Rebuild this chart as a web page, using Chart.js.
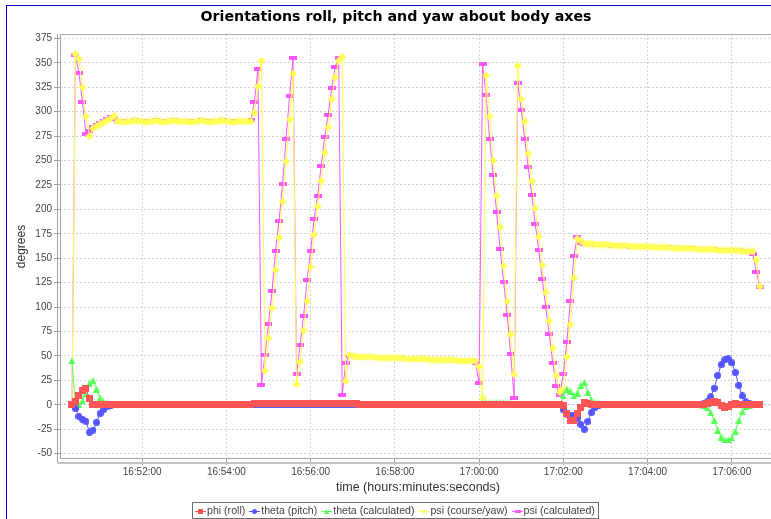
<!DOCTYPE html>
<html>
<head>
<meta charset="utf-8">
<title>Orientations roll, pitch and yaw about body axes</title>
<script src="https://cdn.jsdelivr.net/npm/chart.js@4.4.0/dist/chart.umd.min.js"></script>
<style>
  html, body { margin: 0; padding: 0; background: #fff; overflow: hidden; }
  #wrap { position: absolute; left: 0; top: 0; width: 790px; height: 519px; }
  #frame { position: absolute; left: 6px; top: 5px; width: 900px; height: 600px;
           border-left: 1px solid #0000c8; border-top: 1px solid #0000c8; pointer-events: none; }
</style>
</head>
<body>
<div id="wrap"><canvas id="myChart" width="790" height="519"></canvas></div>
<div id="frame"></div>
<script>
// sample times, one every 5 seconds
const times = [
  "16:50:20","16:50:25","16:50:30","16:50:35","16:50:40","16:50:45","16:50:50","16:50:55",
  "16:51:00","16:51:05","16:51:10","16:51:15","16:51:20","16:51:25","16:51:30","16:51:35","16:51:40","16:51:45","16:51:50","16:51:55",
  "16:52:00","16:52:05","16:52:10","16:52:15","16:52:20","16:52:25","16:52:30","16:52:35","16:52:40","16:52:45","16:52:50","16:52:55",
  "16:53:00","16:53:05","16:53:10","16:53:15","16:53:20","16:53:25","16:53:30","16:53:35","16:53:40","16:53:45","16:53:50","16:53:55",
  "16:54:00","16:54:05","16:54:10","16:54:15","16:54:20","16:54:25","16:54:30","16:54:35","16:54:40","16:54:45","16:54:50","16:54:55",
  "16:55:00","16:55:05","16:55:10","16:55:15","16:55:20","16:55:25","16:55:30","16:55:35","16:55:40","16:55:45","16:55:50","16:55:55",
  "16:56:00","16:56:05","16:56:10","16:56:15","16:56:20","16:56:25","16:56:30","16:56:35","16:56:40","16:56:45","16:56:50","16:56:55",
  "16:57:00","16:57:05","16:57:10","16:57:15","16:57:20","16:57:25","16:57:30","16:57:35","16:57:40","16:57:45","16:57:50","16:57:55",
  "16:58:00","16:58:05","16:58:10","16:58:15","16:58:20","16:58:25","16:58:30","16:58:35","16:58:40","16:58:45","16:58:50","16:58:55",
  "16:59:00","16:59:05","16:59:10","16:59:15","16:59:20","16:59:25","16:59:30","16:59:35","16:59:40","16:59:45","16:59:50","16:59:55",
  "17:00:00","17:00:05","17:00:10","17:00:15","17:00:20","17:00:25","17:00:30","17:00:35","17:00:40","17:00:45","17:00:50","17:00:55",
  "17:01:00","17:01:05","17:01:10","17:01:15","17:01:20","17:01:25","17:01:30","17:01:35","17:01:40","17:01:45","17:01:50","17:01:55",
  "17:02:00","17:02:05","17:02:10","17:02:15","17:02:20","17:02:25","17:02:30","17:02:35","17:02:40","17:02:45","17:02:50","17:02:55",
  "17:03:00","17:03:05","17:03:10","17:03:15","17:03:20","17:03:25","17:03:30","17:03:35","17:03:40","17:03:45","17:03:50","17:03:55",
  "17:04:00","17:04:05","17:04:10","17:04:15","17:04:20","17:04:25","17:04:30","17:04:35","17:04:40","17:04:45","17:04:50","17:04:55",
  "17:05:00","17:05:05","17:05:10","17:05:15","17:05:20","17:05:25","17:05:30","17:05:35","17:05:40","17:05:45","17:05:50","17:05:55",
  "17:06:00","17:06:05","17:06:10","17:06:15","17:06:20","17:06:25","17:06:30","17:06:35","17:06:40"
];

// degrees, one line per minute
const phi = [
  0, 3, 9, 15, 17, 6, 0, 0,
  0, 0, 0, 0, 0, 0, 0, 0, 0, 0, 0, 0,
  0, 0, 0, 0, 0, 0, 0, 0, 0, 0, 0, 0,
  0, 0, 0, 0, 0, 0, 0, 0, 0, 0, 0, 0,
  0, 0, 0, 0, 0, 0, 0, 0, 1, 1, 1, 1,
  1, 1, 1, 1, 1, 1, 1, 1, 1, 1, 1, 1,
  1, 1, 1, 1, 1, 1, 1, 1, 1, 1, 1, 1,
  1, 1, 0, 0, 0, 0, 0, 0, 0, 0, 0, 0,
  0, 0, 0, 0, 0, 0, 0, 0, 0, 0, 0, 0,
  0, 0, 0, 0, 0, 0, 0, 0, 0, 0, 0, 0,
  0, 0, 0, 0, 0, 0, 0, 0, 0, 0, 0, 0,
  0, 0, 0, 0, 0, 0, 0, 0, 0, 0, 0, 0,
  -1, -9, -16, -16, -9, -3, 2, 1, 0, 0, 0, 0,
  0, 0, 0, 0, 0, 0, 0, 0, 0, 0, 0, 0,
  0, 0, 0, 0, 0, 0, 0, 0, 0, 0, 0, 0,
  0, 0, 0, 0, 0, 1, 2, 3, 2, -1, -3, -2,
  0, 1, 0, 0, 0, 0, 0, 0, 0
];

const theta = [
  0, -4, -12, -15, -17, -28, -26, -18,
  -9, -5, -2, -1, 0, 0, 0, 0, 0, 0, 0, 0,
  0, 0, 0, 0, 0, 0, 0, 0, 0, 0, 0, 0,
  0, 0, 0, 0, 0, 0, 0, 0, 0, 0, 0, 0,
  0, 0, 0, 0, 0, 0, 0, 0, 0, 0, 0, 0,
  0, 0, 0, 0, 0, 0, 0, 0, 0, 0, 0, 0,
  0, 0, 0, 0, 0, 0, 0, 0, 0, 0, 0, 0,
  0, 0, 0, 0, 0, 0, 0, 0, 0, 0, 0, 0,
  0, 0, 0, 0, 0, 0, 0, 0, 0, 0, 0, 0,
  0, 0, 0, 0, 0, 0, 0, 0, 0, 0, 0, 0,
  0, 0, 0, 0, 0, 0, 0, 0, 0, 0, 0, 0,
  0, 0, 0, 0, 0, 0, 0, 0, 0, 0, 0, 0,
  -5, -10, -11, -11, -14, -20, -25, -17, -8, -3, -1, 0,
  0, 0, 0, 0, 0, 0, 0, 0, 0, 0, 0, 0,
  0, 0, 0, 0, 0, 0, 0, 0, 0, 0, 0, 0,
  0, 0, 0, 0, 1, 3, 8, 17, 30, 41, 46, 47,
  43, 33, 20, 9, 3, 1, 0, 0, 0
];

const thetaCalc = [
  45, 0, 0, 4, 12, 22, 25, 16,
  7, 3, 1, 0, 0, 0, 0, 0, 0, 0, 0, 0,
  0, 0, 0, 0, 0, 0, 0, 0, 0, 0, 0, 0,
  0, 0, 0, 0, 0, 0, 0, 0, 0, 0, 0, 0,
  0, 0, 0, 0, 0, 0, 0, 0, 0, 0, 0, 0,
  0, 0, 0, 0, 0, 0, 0, 0, 0, 0, 0, 0,
  0, 0, 0, 0, 0, 0, 0, 0, 0, 0, 0, 0,
  0, 0, 0, 0, 0, 0, 0, 0, 0, 0, 0, 0,
  0, 0, 0, 0, 0, 0, 0, 0, 0, 0, 0, 0,
  0, 0, 0, 0, 0, 0, 0, 0, 0, 0, 0, 0,
  0, 2, 2, 2, 2, 2, 2, 2, 1, 1, 0, 0,
  0, 0, 0, 0, 0, 0, 0, 0, 0, 0, 0, 0,
  9, 16, 14, 9, 12, 20, 23, 13, 5, 2, 1, 0,
  0, 0, 0, 0, 0, 0, 0, 0, 0, 0, 0, 0,
  0, 0, 0, 0, 0, 0, 0, 0, 0, 0, 0, 0,
  0, 0, 0, 0, -1, -3, -8, -16, -26, -33, -36, -36,
  -34, -27, -16, -7, -2, -1, 0, 0, 0
];

const psi = [
  0, 359, 354, 325, 295, 275, 283, 285,
  287, 289, 291, 293, 296, 290, 290, 289, 290, 290, 291, 290,
  290, 289, 290, 290, 291, 290, 289, 290, 290, 291, 290, 290,
  290, 290, 289, 290, 290, 291, 290, 289, 290, 290, 290, 291,
  290, 290, 289, 290, 290, 290, 290, 290, 299, 326, 352, 35,
  68, 99, 138, 171, 208, 249, 292, 339, 21, 44, 76, 106,
  141, 174, 203, 229, 258, 284, 313, 335, 352, 356, 24, 51,
  50, 49, 49, 49, 49, 49, 49, 48, 48, 48, 48, 48,
  48, 48, 48, 47, 47, 47, 47, 47, 47, 47, 46, 46,
  46, 46, 46, 46, 46, 46, 45, 45, 45, 45, 45, 45,
  39, 7, 337, 295, 250, 214, 182, 142, 106, 72, 31, 347,
  313, 290, 257, 229, 201, 172, 143, 115, 86, 58, 30, 13,
  16, 49, 82, 130, 170, 168, 165, 165, 165, 164, 164, 164,
  164, 164, 163, 163, 163, 163, 163, 162, 162, 162, 162, 162,
  162, 162, 161, 161, 161, 161, 161, 160, 160, 160, 160, 160,
  160, 160, 159, 159, 159, 159, 159, 159, 158, 158, 158, 158,
  158, 158, 158, 157, 157, 157, 157, 148, 121
];

const psiCalc = [
  0, 358, 340, 310, 277, 280, 284, 286,
  288, 290, 292, 295, 293, 290, 290, 289, 290, 290, 291, 290,
  290, 289, 290, 290, 291, 290, 289, 290, 290, 291, 290, 290,
  290, 290, 289, 290, 290, 291, 290, 289, 290, 290, 290, 291,
  290, 290, 289, 290, 290, 290, 290, 291, 310, 344, 20, 51,
  83, 116, 157, 188, 226, 272, 316, 355, 31, 61, 91, 128,
  157, 190, 214, 244, 274, 297, 324, 346, 355, 10, 43, 50,
  50, 49, 49, 49, 49, 49, 49, 48, 48, 48, 48, 48,
  48, 48, 48, 47, 47, 47, 47, 47, 47, 47, 46, 46,
  46, 46, 46, 46, 46, 46, 45, 45, 45, 45, 45, 43,
  22, 349, 317, 272, 235, 197, 159, 126, 92, 52, 7, 329,
  302, 272, 243, 215, 185, 158, 129, 100, 72, 43, 19, 10,
  31, 64, 106, 152, 172, 166, 165, 165, 165, 164, 164, 164,
  164, 164, 163, 163, 163, 163, 163, 162, 162, 162, 162, 162,
  162, 162, 161, 161, 161, 161, 161, 160, 160, 160, 160, 160,
  160, 160, 159, 159, 159, 159, 159, 159, 158, 158, 158, 158,
  158, 158, 158, 157, 157, 157, 154, 136, 121
];

const seriesNames = ["phi (roll)", "theta (pitch)", "theta (calculated)", "psi (course/yaw)", "psi (calculated)"];
const seriesColors = ["#ff5555", "#5555ff", "#55ff55", "#ffff55", "#ff55ff"];
const seriesShapes = ["square", "circle", "triangle", "diamond", "hrect"];
const xRange = ["16:50:03", "17:07:03"];
const yRange = [-55.5, 379.5];

toSeconds = (t) => {
    let p = t.split(":");
    return (+p[0]) * 3600 + (+p[1]) * 60 + (+p[2]);
}

toClock = (s) => {
    let two = (n) => (n < 10 ? "0" : "") + n;
    return two(Math.floor(s / 3600)) + ":" + two(Math.floor(s / 60) % 60) + ":" + two(s % 60);
}

makeMarker = (shape, color, w, h) => {
    let c = document.createElement("canvas");
    c.width = w;
    c.height = h;
    let g = c.getContext("2d");
    g.fillStyle = color;
    g.beginPath();
    if (shape == "circle") {
        g.arc(w / 2, h / 2, w / 2, 0, Math.PI * 2);
    } else if (shape == "triangle") {
        g.moveTo(w / 2, 0); g.lineTo(w, h); g.lineTo(0, h);
    } else if (shape == "diamond") {
        g.moveTo(w / 2, 0); g.lineTo(w, h / 2); g.lineTo(w / 2, h); g.lineTo(0, h / 2);
    } else {
        g.rect(0, 0, w, h);
    }
    g.fill();
    return c;
}

makeLegendIcon = (shape, color) => {
    let c = document.createElement("canvas");
    c.width = 11;
    c.height = 7;
    let g = c.getContext("2d");
    g.strokeStyle = color;
    g.lineWidth = 1;
    g.beginPath(); g.moveTo(0, 3.5); g.lineTo(11, 3.5); g.stroke();
    let m = shape == "hrect" ? makeMarker(shape, color, 6, 3) : makeMarker(shape, color, 5, 5);
    g.drawImage(m, Math.round((11 - m.width) / 2), Math.round((7 - m.height) / 2));
    return c;
}

let markerSizes = { square: [7, 7], circle: [7, 7], triangle: [7, 7], diamond: [8, 8], hrect: [8, 4] };
let seriesValues = [phi, theta, thetaCalc, psi, psiCalc];
let legendIcons = seriesShapes.map((s, i) => makeLegendIcon(s, seriesColors[i]));

let datasets = seriesValues.map((vals, i) => ({
    label: seriesNames[i],
    data: times.map((t, k) => ({ x: toSeconds(t), y: vals[k] })),
    borderColor: seriesColors[i],
    backgroundColor: seriesColors[i],
    borderWidth: 1,
    pointRadius: 3,
    pointStyle: makeMarker(seriesShapes[i], seriesColors[i], markerSizes[seriesShapes[i]][0], markerSizes[seriesShapes[i]][1]),
    tension: 0,
    fill: false
}));

// plot outline plus the offset axis lines
const plotFrame = {
    id: "plotFrame",
    beforeDatasetsDraw(chart) {
        let a = chart.chartArea;
        let ctx = chart.ctx;
        ctx.save();
        ctx.strokeStyle = "#a8a8a8";
        ctx.lineWidth = 1;
        ctx.strokeRect(a.left + 0.5, a.top + 0.5, a.right - a.left - 1, a.bottom - a.top - 1);
        ctx.strokeStyle = "#a0a0a0";
        ctx.beginPath(); ctx.moveTo(a.left - 2.5, a.top); ctx.lineTo(a.left - 2.5, a.bottom + 5); ctx.stroke();
        ctx.strokeStyle = "#c4c4c4";
        ctx.lineWidth = 2;
        ctx.beginPath(); ctx.moveTo(a.left - 3, a.bottom + 4); ctx.lineTo(a.right, a.bottom + 4); ctx.stroke();
        ctx.restore();
    }
};

// boxed legend under the axis title
const boxLegend = {
    id: "boxLegend",
    afterDraw(chart) {
        let ctx = chart.ctx;
        ctx.save();
        ctx.font = "10.6px 'Liberation Sans', Arial, sans-serif";
        let items = chart.data.datasets.map((ds, i) => ({ text: ds.label, icon: legendIcons[i], w: 12 + ctx.measureText(ds.label).width }));
        let gap = 4, pad = 3;
        let total = items.reduce((s, it) => s + it.w, 0) + gap * (items.length - 1) + pad * 2;
        let left = Math.round(chart.width / 2 - total / 2);
        let top = 502;
        ctx.strokeStyle = "#6e6e6e";
        ctx.lineWidth = 1;
        ctx.strokeRect(left + 0.5, top + 0.5, Math.round(total), 16);
        let x = left + pad;
        let cy = top + 9;
        ctx.fillStyle = "#444";
        ctx.textBaseline = "middle";
        items.forEach((it) => {
            ctx.drawImage(it.icon, Math.round(x), Math.round(cy - 3.5));
            ctx.fillText(it.text, x + 12, cy);
            x += it.w + gap;
        });
        ctx.restore();
    }
};

let gridColor = (c) => (c.tick && c.tick.value === 0 ? "#b4b4f0" : "#d4d4d4");

const ctx = document.getElementById("myChart").getContext("2d");
const myChart = new Chart(ctx, {
    type: "line",
    data: { datasets: datasets },
    plugins: [plotFrame, boxLegend],
    options: {
        responsive: false,
        animation: false,
        events: [],
        layout: { padding: { left: 16, right: 14, top: 0, bottom: 18 } },
        plugins: {
            legend: { display: false },
            tooltip: { enabled: false },
            title: {
                display: true,
                text: "Orientations roll, pitch and yaw about body axes",
                color: "#000",
                font: { family: "'DejaVu Sans'", size: 14.2, weight: "bold", lineHeight: 1.2 },
                padding: { top: 9, bottom: 7.96 }
            }
        },
        scales: {
            x: {
                type: "linear",
                min: toSeconds(xRange[0]),
                max: toSeconds(xRange[1]),
                afterFit: (s) => { s.height = 42; },
                border: { display: false, dash: [2, 2] },
                grid: { color: gridColor, lineWidth: 1, tickLength: 6, tickColor: "#a0a0a0", tickBorderDash: [] },
                ticks: {
                    stepSize: 120,
                    includeBounds: false,
                    autoSkip: false,
                    maxRotation: 0,
                    padding: 1,
                    color: "#444",
                    font: { family: "'Liberation Sans'", size: 10 },
                    callback: (v) => toClock(v)
                },
                title: {
                    display: true,
                    text: "time (hours:minutes:seconds)",
                    color: "#333",
                    font: { family: "'Liberation Sans'", size: 12.5, lineHeight: 1.2 },
                    padding: { top: 0, bottom: 5.5 }
                }
            },
            y: {
                min: yRange[0],
                max: yRange[1],
                afterFit: (s) => { s.width = 44; },
                border: { display: false, dash: [2, 2] },
                grid: { color: gridColor, lineWidth: 1, tickLength: 6, tickColor: "#a0a0a0", tickBorderDash: [] },
                ticks: {
                    stepSize: 25,
                    includeBounds: false,
                    padding: 2,
                    color: "#444",
                    font: { family: "'Liberation Sans'", size: 10 }
                },
                title: {
                    display: true,
                    text: "degrees",
                    color: "#333",
                    font: { family: "'Liberation Sans'", size: 12, lineHeight: 1 },
                    padding: { top: 0, bottom: 0 }
                }
            }
        }
    }
});
</script>
</body>
</html>
